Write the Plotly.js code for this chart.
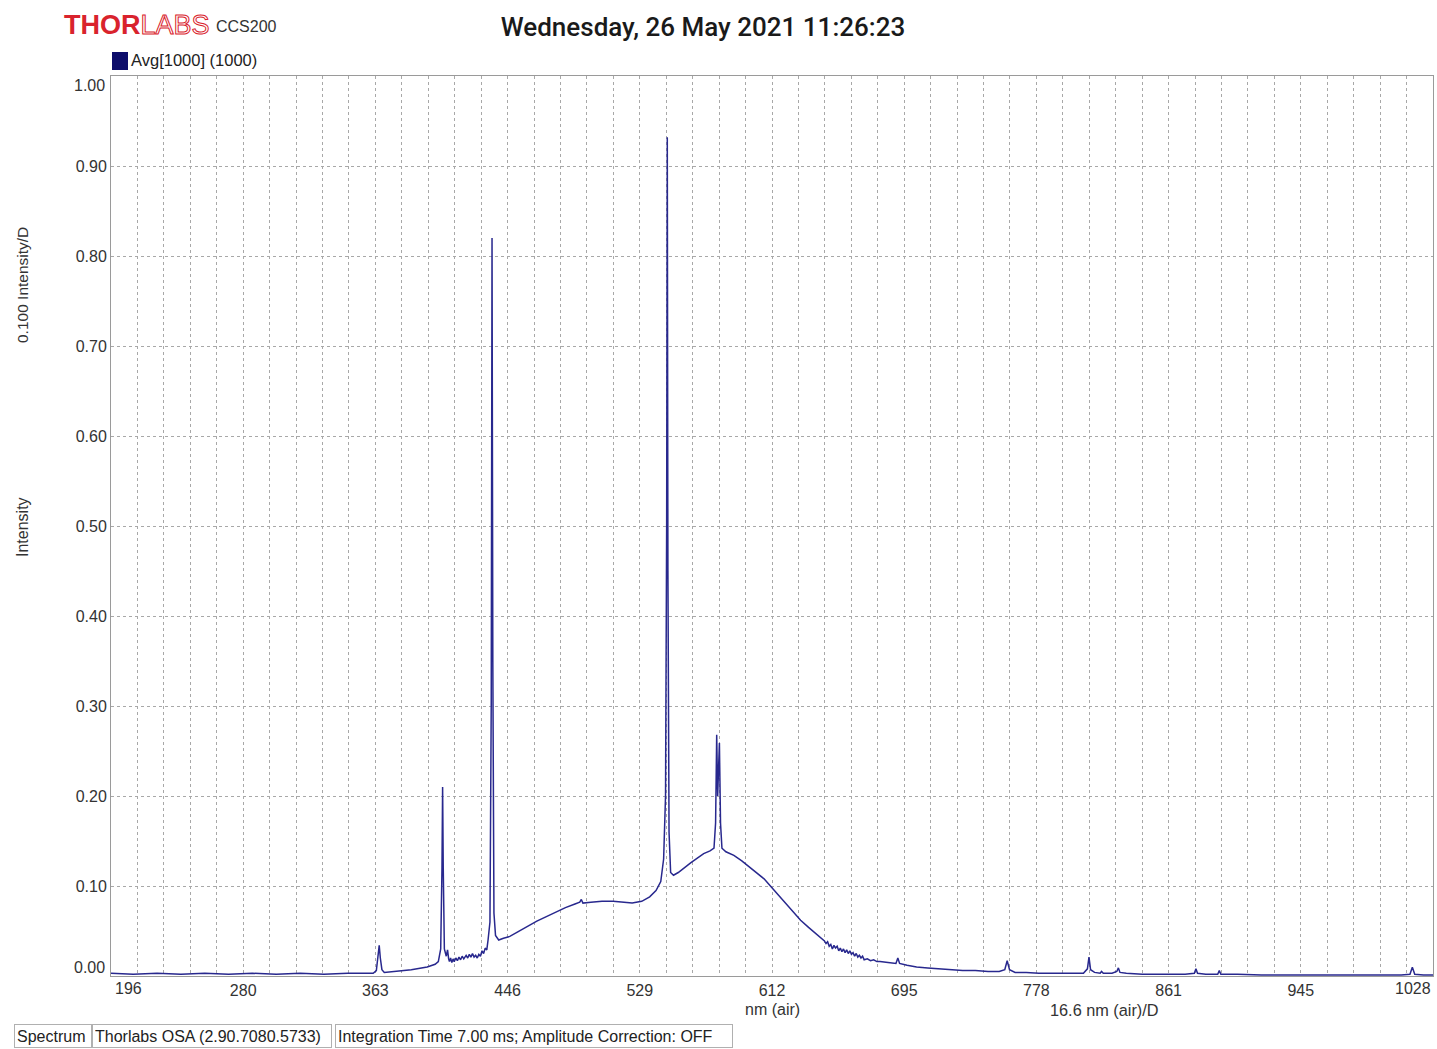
<!DOCTYPE html>
<html>
<head>
<meta charset="utf-8">
<script src="https://cdn.plot.ly/plotly-3.0.1.min.js"></script>
<style>
html, body { margin: 0; padding: 0; background: #ffffff; }
#chart { width: 1437px; height: 1049px; }
</style>
</head>
<body>
<div id="chart"></div>
<script>
// ---- Data (wavelength in nm, intensity 0..1) ----
const wavelengthNm = [
  196, 210, 225, 240, 255, 270, 285, 300, 315, 330, 345, 355, 361,
  363, 364, 364.8, 365.5, 366.5, 368, 375, 385, 395, 400, 402,
  403.5, 404.3, 404.7, 405.1, 405.8, 407, 407.8, 408.5,
  409, 409.7, 410.5, 411.3, 412, 413, 414, 415, 416, 417, 418, 419.5, 420.5, 421.5, 422.5, 423.5, 424.5, 425.5, 426.5, 427.5, 428.5, 429.5, 430.5, 431.5, 432.5, 433.3,
  434.5, 435.3, 435.8, 436.3, 437, 438, 440, 443, 447, 452, 458, 464, 470, 476, 482, 488, 491, 492, 493,
  498, 505, 512, 518, 524, 530, 535, 539, 542, 543.8, 545, 545.7, 546.1, 546.5, 547.2, 548.2, 550,
  553, 557, 561, 565, 569, 573, 575.5, 576.5, 577.2, 577.8, 578.9, 579.6, 580.5, 583, 588, 593, 598, 603, 607, 611, 615, 620, 625, 630, 635, 640, 644,
  645, 646, 647, 648, 649, 650, 651, 652, 653, 654, 655, 656, 657, 658, 659, 660, 661, 662, 663, 664, 665, 666, 667, 668, 669, 670, 672, 674, 676, 678, 680,
  685, 690, 691.2, 692.3, 697, 703, 710, 717, 724, 732, 740, 748, 755, 758.5, 760, 761.5, 765, 772, 780, 790,
  800, 808, 810.5, 811.5, 812.5, 815, 818.5, 819.4, 820.5, 826, 829, 830, 831, 835, 845, 855, 865, 872, 877.8, 878.8,
  879.8, 885, 892.5, 893.5, 894.5, 905, 920, 935, 950, 965, 980, 995, 1008, 1013.5, 1015, 1016.5, 1022, 1028
];
const intensity = [
  0.003, 0.002, 0.003, 0.002, 0.003, 0.002, 0.003, 0.002, 0.003, 0.002, 0.003, 0.003, 0.003,
  0.006, 0.020, 0.034, 0.020, 0.007, 0.004, 0.005, 0.007, 0.010, 0.013, 0.016,
  0.030, 0.120, 0.210, 0.120, 0.030, 0.022, 0.029, 0.019,
  0.016, 0.020, 0.015, 0.019, 0.016, 0.020, 0.017, 0.021, 0.018, 0.022, 0.019, 0.023, 0.020, 0.024, 0.021, 0.025, 0.021, 0.023, 0.020, 0.024, 0.022, 0.028, 0.025, 0.031, 0.029, 0.040,
  0.060, 0.300, 0.820, 0.350, 0.070, 0.045, 0.040, 0.042, 0.044, 0.049, 0.055, 0.061, 0.066, 0.071, 0.076, 0.080, 0.082, 0.085, 0.081,
  0.082, 0.083, 0.083, 0.082, 0.081, 0.083, 0.088, 0.095, 0.105, 0.130, 0.200, 0.500, 0.932, 0.450, 0.160, 0.115, 0.112,
  0.115, 0.121, 0.126, 0.131, 0.136, 0.139, 0.142, 0.170, 0.268, 0.200, 0.259, 0.170, 0.142, 0.138, 0.134, 0.128, 0.121, 0.114, 0.108, 0.100, 0.092, 0.083, 0.072, 0.062, 0.054, 0.046, 0.040,
  0.039, 0.036, 0.038, 0.033, 0.035, 0.030, 0.034, 0.031, 0.033, 0.028, 0.031, 0.027, 0.030, 0.026, 0.029, 0.025, 0.028, 0.024, 0.026, 0.022, 0.025, 0.021, 0.023, 0.020, 0.022, 0.018, 0.019, 0.017, 0.018, 0.016, 0.016,
  0.015, 0.014, 0.020, 0.014, 0.012, 0.010, 0.009, 0.008, 0.007, 0.006, 0.006, 0.005, 0.005, 0.007, 0.017, 0.007, 0.004, 0.004, 0.003, 0.003,
  0.003, 0.003, 0.008, 0.021, 0.007, 0.004, 0.003, 0.005, 0.003, 0.003, 0.005, 0.009, 0.004, 0.003, 0.002, 0.002, 0.002, 0.002, 0.003, 0.008,
  0.003, 0.002, 0.002, 0.006, 0.002, 0.002, 0.001, 0.001, 0.001, 0.001, 0.001, 0.001, 0.001, 0.002, 0.0097, 0.002, 0.001, 0.001
];

// Axis tick labels
const xTickLabels = ['196', '280', '363', '446', '529', '612', '695', '778', '861', '945', '1028'];
const yTickLabels = ['0.00', '0.10', '0.20', '0.30', '0.40', '0.50', '0.60', '0.70', '0.80', '0.90', '1.00'];

// Text
const chartTitle = 'Wednesday, 26 May 2021 11:26:23';
const seriesName = 'Avg[1000] (1000)';
const xTitle = 'nm (air)';
const xDivLabel = '16.6 nm (air)/D';
const yTitle = 'Intensity';
const yDivLabel = '0.100 Intensity/D';
const statusCells = ['Spectrum', 'Thorlabs OSA (2.90.7080.5733)', 'Integration Time 7.00 ms; Amplitude Correction: OFF'];

// ---- Layout geometry ----
const W = 1437, H = 1049;
const M = { l: 111, r: 4, t: 76, b: 73 };
const PW = W - M.l - M.r, PH = H - M.t - M.b;
const px = x => (x - M.l) / PW;
const py = y => (H - M.b - y) / PH;

const xMin = 196, xMax = 1028;
const majorStep = (xMax - xMin) / 10;
const minorPerMajor = 5;
const nMinor = 10 * minorPerMajor;
const xTickVals = [], xTickText = [];
for (let i = 0; i <= nMinor; i++) {
  xTickVals.push(xMin + i * majorStep / minorPerMajor);
  // end labels are drawn separately, nudged inside like the reference
  const isMajor = i % minorPerMajor === 0;
  xTickText.push(isMajor && i !== 0 && i !== nMinor ? xTickLabels[i / minorPerMajor] : '');
}
const yTickVals = yTickLabels.map(s => parseFloat(s));
const yTickText = yTickLabels.map((s, i) => (i === 0 || i === yTickLabels.length - 1) ? '' : s);

const FONT = 'Liberation Sans, Arial, sans-serif';
const gridColor = '#a8a8a8';
const tickFont = { family: FONT, size: 16, color: '#333333' };

const trace = {
  type: 'scatter',
  mode: 'lines',
  x: wavelengthNm,
  y: intensity,
  name: seriesName,
  line: { color: '#28288e', width: 1.5 },
  showlegend: false,
  hoverinfo: 'x+y'
};

const annotations = [
  // Logo
  { xref: 'paper', yref: 'paper', x: px(62), y: py(25), xanchor: 'left', yanchor: 'middle', showarrow: false,
    text: '<b>THOR</b><span style="fill:#ffffff;stroke:#d9232d;stroke-width:1px">LABS</span>',
    font: { family: FONT, size: 27, color: '#d9232d' } },
  { xref: 'paper', yref: 'paper', x: px(214), y: py(27), xanchor: 'left', yanchor: 'middle', showarrow: false,
    text: 'CCS200', font: { family: FONT, size: 16, color: '#333333' } },
  // Legend text
  { xref: 'paper', yref: 'paper', x: px(129), y: py(60), xanchor: 'left', yanchor: 'middle', showarrow: false,
    text: seriesName, font: { family: FONT, size: 16.5, color: '#222222' } },
  // Y titles
  { xref: 'paper', yref: 'paper', x: px(22), y: py(285), xanchor: 'center', yanchor: 'middle', showarrow: false,
    textangle: -90, text: yDivLabel, font: { family: FONT, size: 15.5, color: '#333333' } },
  { xref: 'paper', yref: 'paper', x: px(22), y: py(527), xanchor: 'center', yanchor: 'middle', showarrow: false,
    textangle: -90, text: yTitle, font: { family: FONT, size: 16, color: '#333333' } },
  // X titles
  { xref: 'paper', yref: 'paper', x: px(772), y: py(1010), xanchor: 'center', yanchor: 'middle', showarrow: false,
    text: xTitle, font: { family: FONT, size: 16, color: '#333333' } },
  { xref: 'paper', yref: 'paper', x: px(1104), y: py(1010), xanchor: 'center', yanchor: 'middle', showarrow: false,
    text: xDivLabel, font: { family: FONT, size: 16.3, color: '#333333' } },
  // End tick labels (nudged inside the axis ends)
  { xref: 'paper', yref: 'paper', x: px(128), y: py(988), xanchor: 'center', yanchor: 'middle', showarrow: false,
    text: xTickLabels[0], font: tickFont },
  { xref: 'paper', yref: 'paper', x: px(1413), y: py(988), xanchor: 'center', yanchor: 'middle', showarrow: false,
    text: xTickLabels[xTickLabels.length - 1], font: tickFont },
  { xref: 'paper', yref: 'paper', x: px(107), y: py(967), xanchor: 'right', yanchor: 'middle', showarrow: false,
    text: yTickLabels[0], font: tickFont },
  { xref: 'paper', yref: 'paper', x: px(107), y: py(86), xanchor: 'right', yanchor: 'middle', showarrow: false,
    text: yTickLabels[yTickLabels.length - 1], font: tickFont }
];

// Status bar cells
const cellBoxes = [[14, 92], [92, 332], [335, 733]];
statusCells.forEach((t, i) => {
  const [a, b] = cellBoxes[i];
  annotations.push({
    xref: 'paper', yref: 'paper', x: px(a), y: py(1036), xanchor: 'left', yanchor: 'middle', showarrow: false,
    text: t, align: 'left', width: b - a - 6, height: 18, borderpad: 2,
    bordercolor: '#b0b0b0', borderwidth: 1,
    font: { family: FONT, size: 16, color: '#222222' }
  });
});

const shapes = [
  // legend swatch
  { type: 'rect', xref: 'paper', yref: 'paper', x0: px(112), x1: px(128), y0: py(70), y1: py(52),
    fillcolor: '#0d0d6b', line: { width: 0 } }
];

const layout = {
  width: W, height: H,
  margin: M,
  paper_bgcolor: '#ffffff',
  plot_bgcolor: '#ffffff',
  showlegend: false,
  title: {
    text: chartTitle,
    xref: 'container', yref: 'container',
    x: 703 / W, y: 1 - 27 / H, xanchor: 'center', yanchor: 'middle',
    font: { family: 'Roboto, Liberation Sans, sans-serif', size: 26, weight: 500, color: '#1a1a1a' }
  },
  xaxis: {
    range: [xMin, xMax],
    tickmode: 'array', tickvals: xTickVals, ticktext: xTickText,
    ticks: '', showgrid: true, gridcolor: gridColor, griddash: 'dot', gridwidth: 1,
    zeroline: false, showline: true, linecolor: '#9a9a9a', linewidth: 1, mirror: true,
    tickfont: tickFont,
    fixedrange: true
  },
  yaxis: {
    range: [0, 1],
    tickmode: 'array', tickvals: yTickVals, ticktext: yTickText,
    ticks: '', showgrid: true, gridcolor: gridColor, griddash: 'dot', gridwidth: 1,
    zeroline: false, showline: true, linecolor: '#9a9a9a', linewidth: 1, mirror: true,
    tickfont: tickFont,
    fixedrange: true
  },
  annotations: annotations,
  shapes: shapes
};

Plotly.newPlot('chart', [trace], layout, { displayModeBar: false, responsive: false });
</script>
</body>
</html>
